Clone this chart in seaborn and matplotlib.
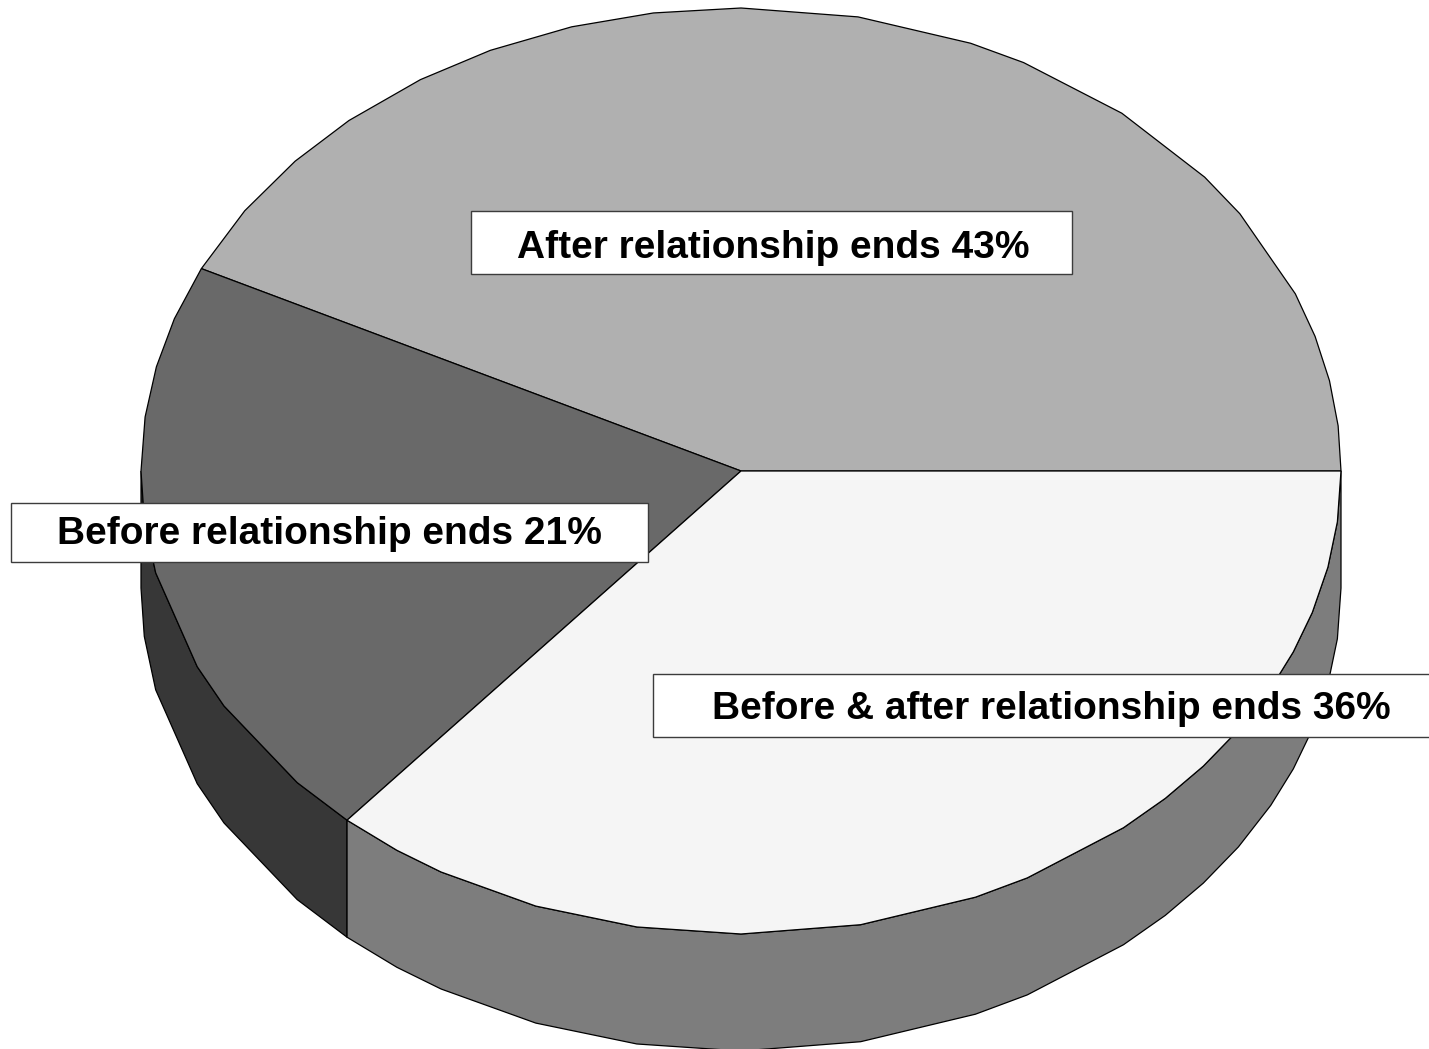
import numpy as np
import matplotlib
matplotlib.use("Agg")
import matplotlib.pyplot as plt
import seaborn as sns

# Slices counter-clockwise from the 3 o'clock position; shares
categories = ["After relationship ends", "Before relationship ends", "Before & after relationship ends"]
values = [42.8, 20.8, 36.4]
top_colors = ["#b0b0b0", "#696969", "#f5f5f5"]
side_colors = ["#585858", "#373737", "#7d7d7d"]

sns.set_style("white")
plt.rcParams['font.family'] = ['Liberation Sans', 'DejaVu Sans']

W, H = 1429, 1049
fig = plt.figure(figsize=(W / 100, H / 100), dpi=100, facecolor="white")
ax = fig.add_axes([0, 0, 1, 1])
ax.set_xlim(0, W)
ax.set_ylim(H, 0)
ax.axis("off")

cx, cy, rx, ry, depth = 741, 471, 600, 463, 117
# The outline of the disc is faceted at these (irregular) angles
facets = np.array([0, 5.6, 11.25, 16.9, 22.5, 33.75, 39.4, 50.6, 61.9, 67.5, 78.75, 90,
                   98.4, 106.4, 114.7, 122.3, 130.8, 138, 145.8, 160.8, 167, 173.3, 180,
                   186, 192.7, 205, 210.5, 222.3, 235, 240, 250, 260, 270, 281.5, 293,
                   298.5, 309.6, 315, 320.4, 326, 332, 337, 342.2, 348, 353.7, 360])


def arc(a0, a1):
    inner = facets[(facets > a0 + 1e-6) & (facets < a1 - 1e-6)]
    a = np.radians(np.r_[a0, inner, a1])
    return cx + rx * np.cos(a), cy - ry * np.sin(a)


edges = np.cumsum([0] + values) / sum(values) * 360
lw = 0.9

# side wall (visible between 180 and 360 degrees)
for i in [1, 2]:
    a0, a1 = max(edges[i], 180), min(edges[i + 1], 360)
    x, y = arc(a0, a1)
    ax.fill(np.r_[x, x[::-1]], np.r_[y, y[::-1] + depth], fc=side_colors[i],
            ec="black", lw=lw, zorder=1)

# top wedges
for i in range(3):
    x, y = arc(edges[i], edges[i + 1])
    ax.fill(np.r_[cx, x], np.r_[cy, y], fc=top_colors[i], ec="black", lw=lw, zorder=2)

# label boxes
boxes = [(471, 211, 1072, 274), (11, 503, 648, 562), (653, 674, 1440, 737)]
anchors = [(773.5, 258), (329.5, 544), (1051, 719)]
for name, v, (x0, y0, x1, y1), (tx, ty) in zip(categories, values, boxes, anchors):
    ax.fill([x0, x1, x1, x0], [y0, y0, y1, y1], fc="white", ec="#3c3c3c", lw=1.0, zorder=3)
    ax.text(tx, ty, f"{name} {round(v)}%", ha="center", va="baseline",
            fontsize=28, fontweight="bold", color="black", zorder=4)

fig.savefig("out.png", dpi=100, facecolor="white")
